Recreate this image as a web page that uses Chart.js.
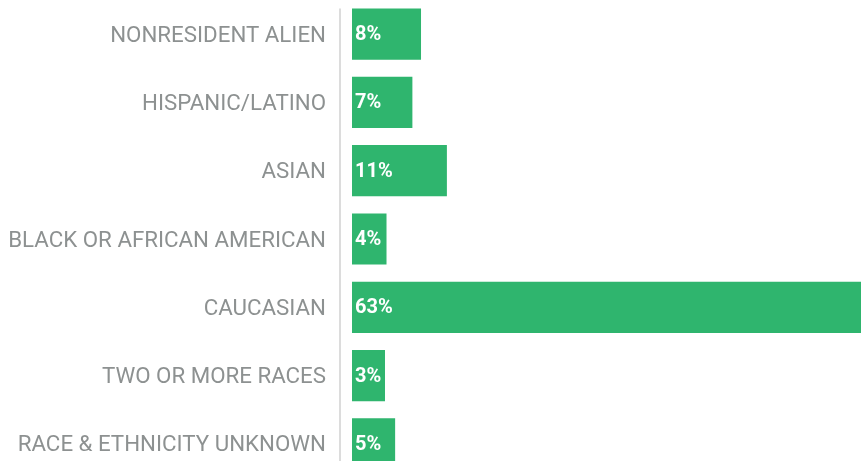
<!DOCTYPE html>
<html>
<head>
<meta charset="utf-8">
<script src="https://cdn.jsdelivr.net/npm/chart.js@4"></script>
<style>
  html, body { margin: 0; padding: 0; background: #fff; overflow: hidden; }
  #wrap { position: relative; width: 861px; height: 478px; }
</style>
</head>
<body>
<div id="wrap"><canvas id="raceChart"></canvas></div>
<script>
// categories and shares (percent of students)
const categories = [
    "NONRESIDENT ALIEN",
    "HISPANIC/LATINO",
    "ASIAN",
    "BLACK OR AFRICAN AMERICAN",
    "CAUCASIAN",
    "TWO OR MORE RACES",
    "RACE & ETHNICITY UNKNOWN"
];
const shares = [8, 7, 11, 4, 63, 3, 5];

const barColor = "#2fb56e";
const labelGray = "#8d9191";

// white value text inside each bar, left aligned
const valueLabels = {
    id: "valueLabels",
    afterDatasetsDraw(chart) {
        const ctx = chart.ctx;
        const meta = chart.getDatasetMeta(0);
        ctx.save();
        ctx.fillStyle = "#ffffff";
        ctx.font = "bold 20px Roboto";
        ctx.textAlign = "left";
        ctx.textBaseline = "middle";
        meta.data.forEach((bar, i) => {
            ctx.fillText(shares[i] + "%", bar.base + 3, bar.y + 1);
        });
        ctx.restore();
    }
};

// thin grey divider between labels and bars
const divider = {
    id: "divider",
    beforeDatasetsDraw(chart) {
        const ctx = chart.ctx;
        const first = chart.getDatasetMeta(0).data[0];
        const x = chart.chartArea.left - 12;
        ctx.save();
        ctx.strokeStyle = "#dcdcdc";
        ctx.lineWidth = 2;
        ctx.beginPath();
        ctx.moveTo(x, first.y - first.height / 2);
        ctx.lineTo(x, chart.chartArea.bottom);
        ctx.stroke();
        ctx.restore();
    }
};

new Chart(document.getElementById("raceChart"), {
    type: "bar",
    data: {
        labels: categories,
        datasets: [{
            data: shares,
            backgroundColor: barColor,
            borderWidth: 0,
            barPercentage: 0.75,
            categoryPercentage: 1.0,
            minBarLength: 33
        }]
    },
    options: {
        indexAxis: "y",
        responsive: true,
        maintainAspectRatio: false,
        animation: false,
        layout: { padding: 0 },
        plugins: {
            legend: { display: false },
            tooltip: { enabled: false }
        },
        scales: {
            x: {
                display: false,
                min: 0,
                max: 59
            },
            y: {
                grid: { display: false, drawTicks: false },
                border: { display: false },
                ticks: {
                    color: labelGray,
                    font: { family: "Roboto", size: 22.3 },
                    padding: 26,
                    labelOffset: 2
                },
                afterFit(scale) {
                    scale.width = 352;
                    scale.paddingTop = 0;
                    scale.paddingBottom = 0;
                }
            }
        }
    },
    plugins: [divider, valueLabels]
});
</script>
</body>
</html>
